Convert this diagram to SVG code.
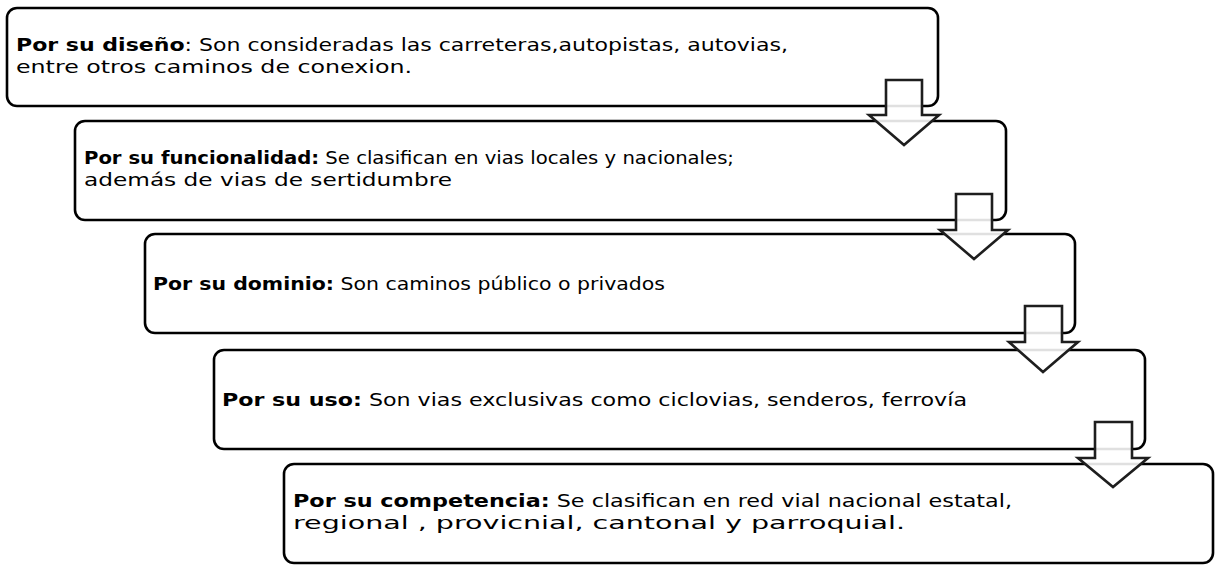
<svg xmlns="http://www.w3.org/2000/svg" width="1215" height="565" viewBox="0 0 1215 565">
<style>
.box{fill:#ffffff;stroke:#000000;stroke-width:2.6}
.t{font-family:"DejaVu Sans","Liberation Sans",sans-serif;font-size:18.5px;fill:#000000}
.b{font-weight:bold}
.arr{fill:#ffffff;fill-opacity:0.88;stroke:#1e1e1e;stroke-width:2.6;stroke-linejoin:miter}
</style>
<rect width="1215" height="565" fill="#ffffff"/>
<g id="node-diseno">
<rect class="box" x="7" y="8" width="931" height="98" rx="10"/>
<text class="t" x="16" y="51" textLength="772" lengthAdjust="spacingAndGlyphs"><tspan class="b">Por su diseño</tspan>: Son consideradas las carreteras,autopistas, autovias,</text>
<text class="t" x="16" y="73" textLength="396" lengthAdjust="spacingAndGlyphs">entre otros caminos de conexion.</text>
</g>
<g id="node-funcionalidad">
<rect class="box" x="75" y="121" width="931" height="99" rx="10"/>
<text class="t" x="84" y="164" textLength="650" lengthAdjust="spacingAndGlyphs"><tspan class="b">Por su funcionalidad:</tspan> Se clasifican en vias locales y nacionales;</text>
<text class="t" x="84" y="186" textLength="368" lengthAdjust="spacingAndGlyphs">además de vias de sertidumbre</text>
</g>
<g id="node-dominio">
<rect class="box" x="145" y="234" width="930" height="99" rx="10"/>
<text class="t" x="153" y="290" textLength="512" lengthAdjust="spacingAndGlyphs"><tspan class="b">Por su dominio:</tspan> Son caminos público o privados</text>
</g>
<g id="node-uso">
<rect class="box" x="214" y="350" width="931" height="99" rx="10"/>
<text class="t" x="222" y="406" textLength="745" lengthAdjust="spacingAndGlyphs"><tspan class="b">Por su uso:</tspan> Son vias exclusivas como ciclovias, senderos, ferrovía</text>
</g>
<g id="node-competencia">
<rect class="box" x="284" y="464" width="929" height="99" rx="10"/>
<text class="t" x="293" y="507" textLength="719" lengthAdjust="spacingAndGlyphs"><tspan class="b">Por su competencia:</tspan> Se clasifican en red vial nacional estatal,</text>
<text class="t" x="293" y="529" textLength="612" lengthAdjust="spacingAndGlyphs">regional , provicnial, cantonal y parroquial.</text>
</g>
<g id="connectors">
<path class="arr" d="M886,80 H922 V115 H939 L904,145 L869,115 H886 Z"/>
<path class="arr" d="M956,194 H992 V230 H1008 L974,259 L940,230 H956 Z"/>
<path class="arr" d="M1025,306 H1062 V342 H1078 L1043,372 L1009,342 H1025 Z"/>
<path class="arr" d="M1095,422 H1132 V458 H1148 L1113,487 L1078,458 H1095 Z"/>
</g>
</svg>
